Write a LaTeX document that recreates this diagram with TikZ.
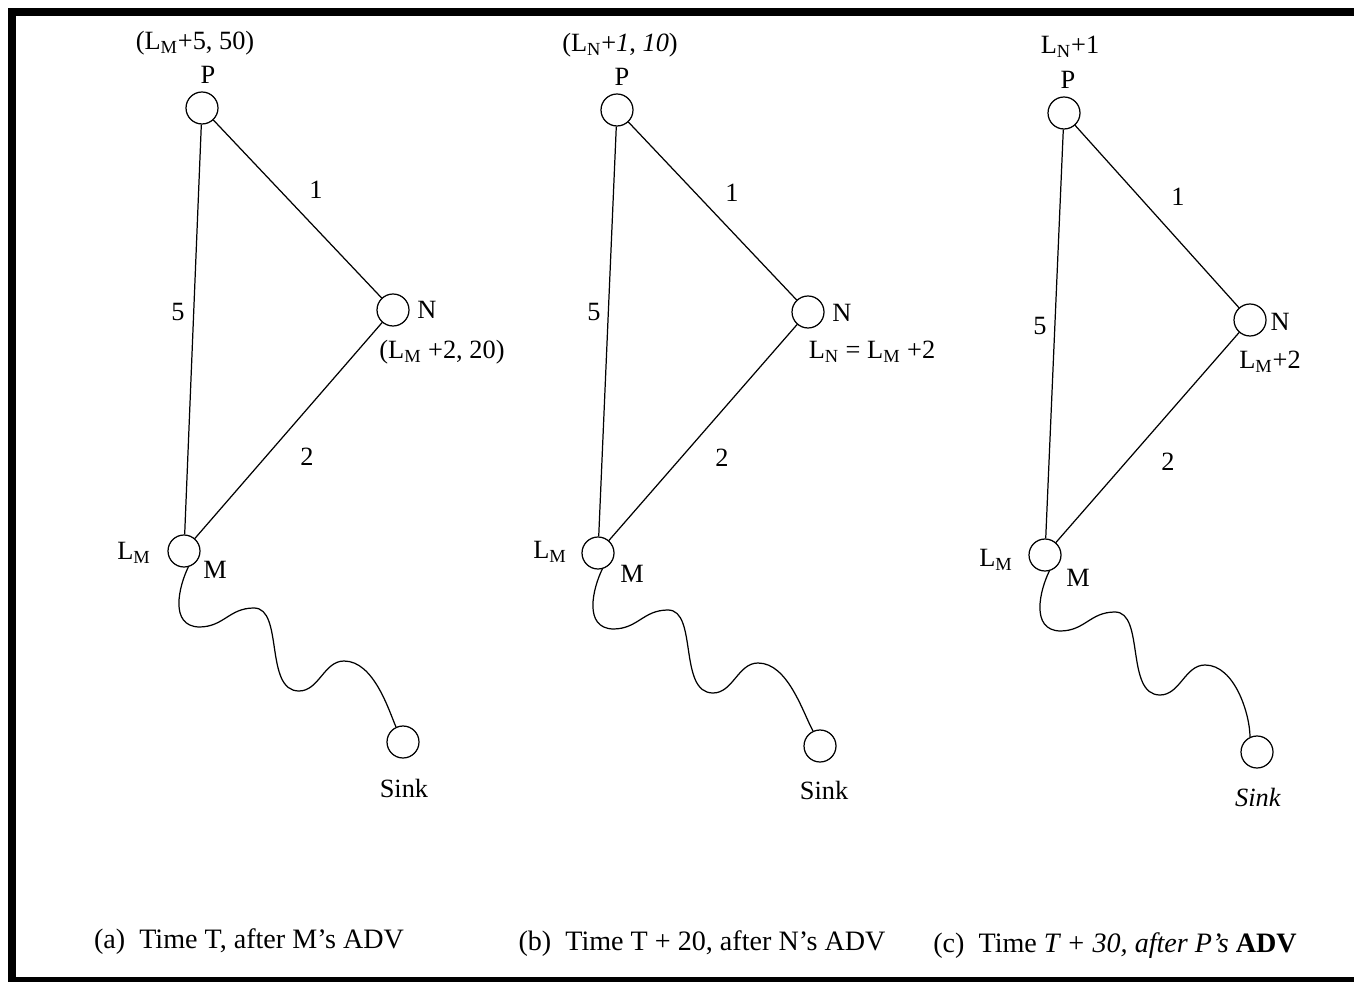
\documentclass[tikz,border=0pt]{standalone}
\usepackage{fontspec}
\setmainfont{Liberation Serif}
\usetikzlibrary{positioning}

\begin{document}
\begin{tikzpicture}[
  x=0.02cm, y=-0.02cm,
  vertex/.style={draw, circle, minimum size=0.64cm, inner sep=0pt,
    line width=0.7pt},
  lbl/.style={font=\fontsize{15}{18}\selectfont, inner sep=1pt},
  captext/.style={font=\fontsize{16}{19}\selectfont, inner sep=1pt},
  link/.style={line width=0.7pt}
]
  \useasboundingbox (0,0) rectangle (1354,982);

  % Frame
  \fill (8,8) rectangle (1354,16);
  \fill (8,8) rectangle (16,982);
  \fill (8,977) rectangle (1354,982);

  % Nodes, links and path to the sink
  \foreach \p/\px/\py/\nx/\ny/\mx/\my/\sx/\sy in {
    a/202/108/393/310/184/551/403/742,
    b/617/110/808/312/598/553/820/746,
    c/1064/113/1250/320/1045/555/1257/752} {
    \node[vertex] (P\p) at (\px,\py) {};
    \node[vertex] (N\p) at (\nx,\ny) {};
    \node[vertex] (M\p) at (\mx,\my) {};
    \node[vertex] (S\p) at (\sx,\sy) {};
    \draw[link] (P\p) -- (N\p);
    \draw[link] (P\p) -- (M\p);
    \draw[link] (N\p) -- (M\p);
    \begin{scope}[shift={(M\p)}]
      \draw[link] (M\p.285) .. controls (-5,35) and (-15,75) .. (15,76)
        .. controls (40,76) and (45,57) .. (70,57)
        .. controls (100,57) and (80,140) .. (115,140)
        .. controls (135,140) and (140,110) .. (160,110)
        .. controls (190,110) and (205,160) .. (S\p.115);
    \end{scope}
  }

  % Panel (a)
  \node[lbl] (costPa) at (195,43) {(L\textsubscript{M}+5, 50)};
  \node[lbl] (namePa) at (208,75) {P};
  \node[lbl] (nameNa) at (427,310) {N};
  \node[lbl] (costNa) at (442,352) {(L\textsubscript{M} +2, 20)};
  \node[lbl] (costMa) at (134,553) {L\textsubscript{M}};
  \node[lbl] (nameMa) at (215,570) {M};
  \node[lbl] (nameSa) at (404,788) {Sink};
  \node[lbl] (wPNa) at (316,190) {1};
  \node[lbl] (wPMa) at (178,312) {5};
  \node[lbl] (wNMa) at (307,457) {2};

  % Panel (b)
  \node[lbl] (costPb) at (620,45) {(L\textsubscript{N}+\textit{1}, \textit{10})};
  \node[lbl] (namePb) at (622,77) {P};
  \node[lbl] (nameNb) at (842,313) {N};
  \node[lbl] (costNb) at (872,352) {L\textsubscript{N} = L\textsubscript{M} +2};
  \node[lbl] (costMb) at (550,552) {L\textsubscript{M}};
  \node[lbl] (nameMb) at (632,574) {M};
  \node[lbl] (nameSb) at (824,790) {Sink};
  \node[lbl] (wPNb) at (732,193) {1};
  \node[lbl] (wPMb) at (594,312) {5};
  \node[lbl] (wNMb) at (722,458) {2};

  % Panel (c)
  \node[lbl] (costPc) at (1070,47) {L\textsubscript{N}+1};
  \node[lbl] (namePc) at (1068,80) {P};
  \node[lbl] (nameNc) at (1280,322) {N};
  \node[lbl] (costNc) at (1270,362) {L\textsubscript{M}+2};
  \node[lbl] (costMc) at (996,560) {L\textsubscript{M}};
  \node[lbl] (nameMc) at (1078,578) {M};
  \node[lbl] (nameSc) at (1258,797) {\textit{Sink}};
  \node[lbl] (wPNc) at (1178,197) {1};
  \node[lbl] (wPMc) at (1040,326) {5};
  \node[lbl] (wNMc) at (1168,462) {2};

  % Captions
  \node[captext] (capa) at (249,942) {(a)\ \ Time T, after M's ADV};
  \node[captext] (capb) at (702,944) {(b)\ \ Time T + 20, after N's ADV};
  \node[captext] (capc) at (1115,946)
    {(c)\ \ Time \textit{T + 30, after P's} \textbf{ADV}};
\end{tikzpicture}
\end{document}
